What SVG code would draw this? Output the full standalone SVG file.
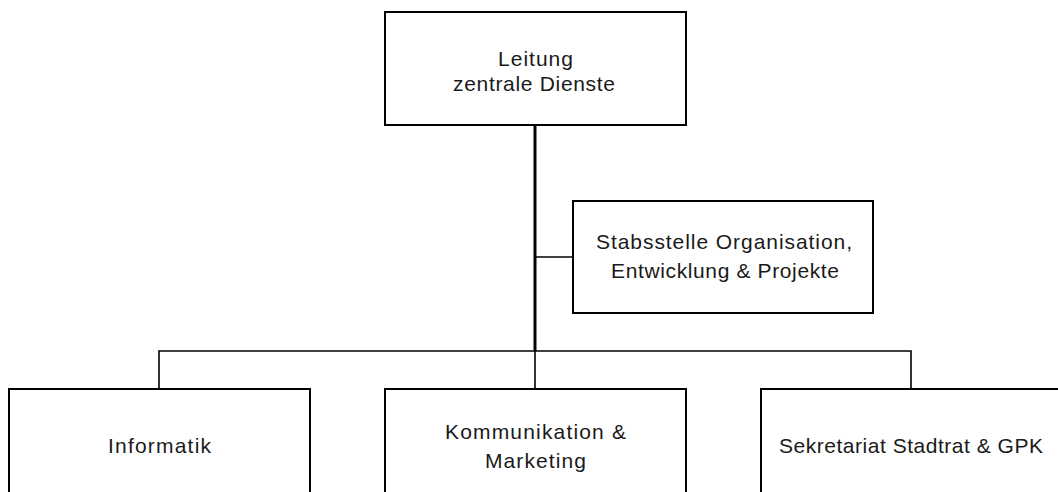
<svg xmlns="http://www.w3.org/2000/svg" width="1058" height="492" viewBox="0 0 1058 492">
<style>
.box{fill:#fff;stroke:#000;stroke-width:2}
.t{font-family:"Liberation Sans",Arial,sans-serif;font-size:21px;fill:#1a1a1a;text-anchor:middle}
.thick{stroke:#000;stroke-width:3;fill:none}
.thin{stroke:#000;stroke-width:1.6;fill:none}
</style>
<rect width="1058" height="492" fill="#fff"/>
<g id="connectors">
<line class="thick" x1="535" y1="125" x2="535" y2="351"/>
<line class="thin" x1="535" y1="257" x2="573" y2="257"/>
<polyline class="thin" points="159,389 159,351 911,351 911,389"/>
<line class="thin" x1="535" y1="351" x2="535" y2="389"/>
</g>
<g id="leitung">
<rect class="box" x="385" y="12" width="301" height="113"/>
<text class="t" x="535.5" y="66" textLength="75" lengthAdjust="spacing">Leitung</text>
<text class="t" x="534" y="91" textLength="162" lengthAdjust="spacing">zentrale Dienste</text>
</g>
<g id="stabsstelle">
<rect class="box" x="573" y="201" width="300" height="112"/>
<text class="t" x="724" y="249" textLength="256" lengthAdjust="spacing">Stabsstelle Organisation,</text>
<text class="t" x="725" y="278" textLength="228" lengthAdjust="spacing">Entwicklung &amp; Projekte</text>
</g>
<g id="informatik">
<rect class="box" x="9" y="389" width="301" height="113"/>
<text class="t" x="159.5" y="453" textLength="103" lengthAdjust="spacing">Informatik</text>
</g>
<g id="kommunikation">
<rect class="box" x="385" y="389" width="301" height="113"/>
<text class="t" x="535.5" y="439" textLength="181" lengthAdjust="spacing">Kommunikation &amp;</text>
<text class="t" x="535.5" y="468" textLength="101" lengthAdjust="spacing">Marketing</text>
</g>
<g id="sekretariat">
<rect class="box" x="761" y="389" width="301" height="113"/>
<text class="t" x="911" y="453" textLength="264" lengthAdjust="spacing">Sekretariat Stadtrat &amp; GPK</text>
</g>
</svg>
